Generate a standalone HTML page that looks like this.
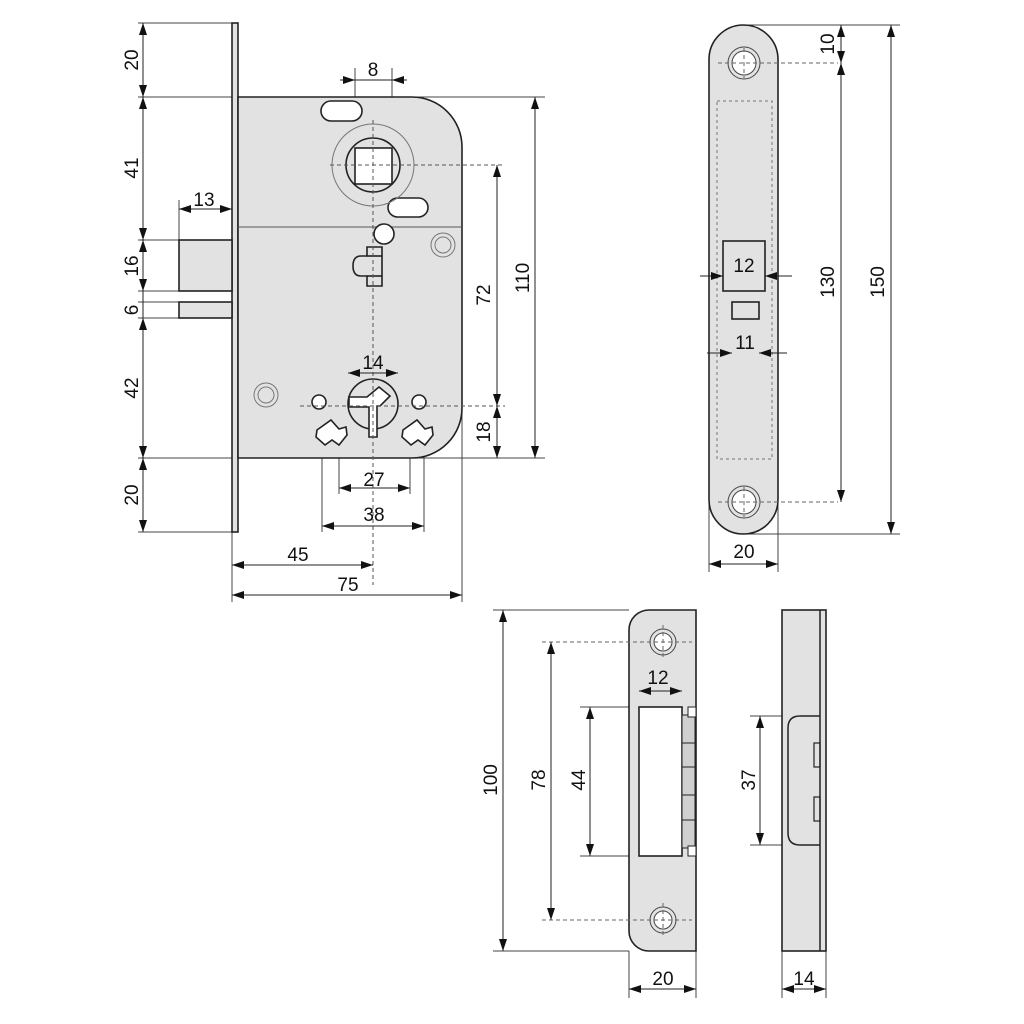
<!DOCTYPE html>
<html><head><meta charset="utf-8"><style>
html,body{margin:0;padding:0;background:#fff}
svg{display:block}
text{font-family:"Liberation Sans","DejaVu Sans",sans-serif;font-size:19px;fill:#111}
</style></head><body>
<svg width="1024" height="1024" viewBox="0 0 1024 1024" xmlns="http://www.w3.org/2000/svg">
<defs>
<marker id="a" markerUnits="userSpaceOnUse" markerWidth="13" markerHeight="9" refX="12" refY="4" orient="auto-start-reverse"><path d="M0,0 L12,4 L0,8 z" fill="#111"/></marker>
</defs>
<g stroke="#444" stroke-width="1" fill="none">
<line x1="138" y1="23" x2="232" y2="23"/>
<line x1="138" y1="97" x2="545" y2="97"/>
<line x1="138" y1="240" x2="179" y2="240"/>
<line x1="138" y1="291" x2="179" y2="291"/>
<line x1="138" y1="302" x2="179" y2="302"/>
<line x1="138" y1="318" x2="179" y2="318"/>
<line x1="138" y1="458" x2="545" y2="458"/>
<line x1="138" y1="532" x2="232" y2="532"/>
<line x1="179" y1="200" x2="179" y2="240"/>
<line x1="232" y1="532" x2="232" y2="602"/>
<line x1="462" y1="400" x2="462" y2="602"/>
<line x1="322" y1="438" x2="322" y2="532"/>
<line x1="339" y1="438" x2="339" y2="494"/>
<line x1="410" y1="438" x2="410" y2="494"/>
<line x1="424" y1="438" x2="424" y2="532"/>
<line x1="355" y1="68" x2="355" y2="148"/>
<line x1="392" y1="68" x2="392" y2="148"/>
<line x1="348" y1="367" x2="348" y2="395"/>
<line x1="398" y1="367" x2="398" y2="395"/>
</g>
<g stroke="#222" stroke-width="1.6" fill="#e2e2e2">
<rect x="232" y="23" width="6" height="509"/>
<rect x="179" y="240" width="53" height="51"/>
<rect x="179" y="302" width="53" height="16"/>
<path d="M238,97 L412,97 A50,50 0 0 1 462,147 L462,408 A50,50 0 0 1 412,458 L238,458 Z"/>
</g>
<line x1="238" y1="227" x2="462" y2="227" stroke="#555" stroke-width="1"/>
<g stroke="#222" stroke-width="1.6" fill="#fff">
<rect x="321" y="101" width="41" height="20" rx="10"/>
<rect x="388" y="198" width="40" height="19" rx="9.5"/>
<circle cx="373" cy="165" r="41" fill="none" stroke="#777" stroke-width="1"/>
<circle cx="373" cy="165" r="27" fill="#e2e2e2"/>
<rect x="355" y="148" width="37" height="36"/>
<circle cx="384" cy="234" r="10"/>
<path d="M382,247 L367,247 L367,256 L361,256 Q353,256 353,266 Q353,276 361,276 L367,276 L367,286 L382,286 Z" fill="none"/>
<line x1="367" y1="256" x2="382" y2="256"/>
<line x1="367" y1="276" x2="382" y2="276"/>
<circle cx="373" cy="404" r="25" fill="#e2e2e2"/>
<path d="M349,397 L367,397 L379,387 L390,396 L380,406 L377,406 L377,437 L369,437 L369,407 L349,407 Z"/>
<circle cx="319" cy="402" r="7"/>
<circle cx="419" cy="402" r="7"/>
<path d="M317,430 L331,420 L339,429 L346,427 L347,435 L339,445 L332,440 L325,445 L316,437 Z"/>
<path d="M403,430 L417,420 L425,429 L432,427 L433,435 L425,445 L418,440 L411,445 L402,437 Z"/>
</g>
<g stroke="#777" stroke-width="1" fill="none">
<circle cx="443" cy="245" r="12"/><circle cx="443" cy="245" r="8"/>
<circle cx="266" cy="395" r="12"/><circle cx="266" cy="395" r="8"/>
</g>
<g stroke="#555" stroke-width="1" stroke-dasharray="4,3" fill="none">
<line x1="373" y1="120" x2="373" y2="585"/>
<line x1="330" y1="165" x2="505" y2="165"/>
<line x1="300" y1="406" x2="505" y2="406"/>
</g>
<g stroke="#222" stroke-width="1" fill="none">
<line x1="143" y1="23" x2="143" y2="97" marker-start="url(#a)" marker-end="url(#a)"/>
<line x1="143" y1="97" x2="143" y2="240" marker-start="url(#a)" marker-end="url(#a)"/>
<line x1="143" y1="240" x2="143" y2="291" marker-start="url(#a)" marker-end="url(#a)"/>
<line x1="143" y1="291" x2="143" y2="302"/>
<line x1="143" y1="318" x2="143" y2="458" marker-start="url(#a)" marker-end="url(#a)"/>
<line x1="143" y1="458" x2="143" y2="532" marker-start="url(#a)" marker-end="url(#a)"/>
<line x1="143" y1="302" x2="143" y2="318"/>
<line x1="179" y1="209" x2="232" y2="209" marker-start="url(#a)" marker-end="url(#a)"/>
<line x1="340" y1="80" x2="355" y2="80" marker-end="url(#a)"/>
<line x1="407" y1="80" x2="392" y2="80" marker-end="url(#a)"/>
<line x1="355" y1="80" x2="392" y2="80"/>
<line x1="348" y1="373" x2="398" y2="373" marker-start="url(#a)" marker-end="url(#a)"/>
<line x1="339" y1="488" x2="410" y2="488" marker-start="url(#a)" marker-end="url(#a)"/>
<line x1="322" y1="526" x2="424" y2="526" marker-start="url(#a)" marker-end="url(#a)"/>
<line x1="232" y1="565" x2="373" y2="565" marker-start="url(#a)" marker-end="url(#a)"/>
<line x1="232" y1="595" x2="462" y2="595" marker-start="url(#a)" marker-end="url(#a)"/>
<line x1="497" y1="165" x2="497" y2="406" marker-start="url(#a)" marker-end="url(#a)"/>
<line x1="497" y1="406" x2="497" y2="458" marker-start="url(#a)" marker-end="url(#a)"/>
<line x1="535" y1="97" x2="535" y2="458" marker-start="url(#a)" marker-end="url(#a)"/>
</g>
<g text-anchor="middle">
<text transform="translate(138,60) rotate(-90)">20</text>
<text transform="translate(138,168) rotate(-90)">41</text>
<text transform="translate(138,266) rotate(-90)">16</text>
<text transform="translate(138,310) rotate(-90)">6</text>
<text transform="translate(138,388) rotate(-90)">42</text>
<text transform="translate(138,495) rotate(-90)">20</text>
<text x="204" y="206">13</text>
<text x="373" y="76">8</text>
<text x="373" y="369">14</text>
<text x="374" y="486">27</text>
<text x="374" y="521">38</text>
<text x="298" y="561">45</text>
<text x="348" y="591">75</text>
<text transform="translate(490,295) rotate(-90)">72</text>
<text transform="translate(490,432) rotate(-90)">18</text>
<text transform="translate(529,278) rotate(-90)">110</text>
</g>

<g stroke="#444" stroke-width="1" fill="none">
<line x1="744" y1="25" x2="900" y2="25"/>
<line x1="744" y1="534" x2="900" y2="534"/>
<line x1="709" y1="500" x2="709" y2="572"/>
<line x1="778" y1="500" x2="778" y2="572"/>
<line x1="732" y1="319" x2="732" y2="358"/>
<line x1="759" y1="319" x2="759" y2="358"/>
</g>
<g stroke="#222" stroke-width="1.6" fill="#e2e2e2">
<rect x="709" y="25" width="69" height="509" rx="34.5"/>
</g>
<rect x="717" y="101" width="55" height="358" fill="none" stroke="#777" stroke-width="1" stroke-dasharray="3,3"/>
<g stroke="#222" stroke-width="1.6" fill="none">
<rect x="723" y="241" width="42" height="50"/>
<rect x="732" y="302" width="27" height="17"/>
</g>
<g stroke="#444" stroke-width="1">
<circle cx="744" cy="63" r="16" fill="#e2e2e2"/><circle cx="744" cy="63" r="12" fill="#fff"/>
<circle cx="744" cy="502" r="16" fill="#e2e2e2"/><circle cx="744" cy="502" r="12" fill="#fff"/>
</g>
<g stroke="#666" stroke-width="1" stroke-dasharray="4,3">
<line x1="718" y1="63" x2="838" y2="63"/>
<line x1="718" y1="502" x2="838" y2="502"/>
<line x1="744" y1="48" x2="744" y2="78"/>
<line x1="744" y1="487" x2="744" y2="517"/>
</g>
<g stroke="#222" stroke-width="1" fill="none">
<line x1="700" y1="276" x2="723" y2="276" marker-end="url(#a)"/>
<line x1="792" y1="276" x2="765" y2="276" marker-end="url(#a)"/>
<line x1="707" y1="353" x2="732" y2="353" marker-end="url(#a)"/>
<line x1="787" y1="353" x2="759" y2="353" marker-end="url(#a)"/>
<line x1="841" y1="25" x2="841" y2="63" marker-start="url(#a)" marker-end="url(#a)"/>
<line x1="841" y1="63" x2="841" y2="502" marker-start="url(#a)" marker-end="url(#a)"/>
<line x1="891" y1="25" x2="891" y2="534" marker-start="url(#a)" marker-end="url(#a)"/>
<line x1="709" y1="564" x2="778" y2="564" marker-start="url(#a)" marker-end="url(#a)"/>
</g>
<g text-anchor="middle">
<text x="744" y="272">12</text>
<text x="745" y="349">11</text>
<text transform="translate(834,44) rotate(-90)">10</text>
<text transform="translate(834,282) rotate(-90)">130</text>
<text transform="translate(884,282) rotate(-90)">150</text>
<text x="744" y="558">20</text>
</g>

<g stroke="#444" stroke-width="1" fill="none">
<line x1="493" y1="610" x2="629" y2="610"/>
<line x1="493" y1="951" x2="629" y2="951"/>
<line x1="580" y1="707" x2="639" y2="707"/>
<line x1="580" y1="856" x2="639" y2="856"/>
<line x1="639" y1="686" x2="639" y2="707"/>
<line x1="682" y1="686" x2="682" y2="707"/>
<line x1="629" y1="951" x2="629" y2="998"/>
<line x1="696" y1="951" x2="696" y2="998"/>
<line x1="782" y1="951" x2="782" y2="998"/>
<line x1="826" y1="951" x2="826" y2="998"/>
<line x1="750" y1="716" x2="790" y2="716"/>
<line x1="750" y1="845" x2="790" y2="845"/>
</g>
<g stroke="#222" stroke-width="1.6" fill="#e2e2e2">
<path d="M649,610 L696,610 L696,951 L649,951 A20,20 0 0 1 629,931 L629,630 A20,20 0 0 1 649,610 Z"/>
<rect x="639" y="707" width="43" height="149" fill="#fff"/>
<rect x="682" y="715" width="13" height="133" fill="#d0d0d0" stroke-width="1"/>
<rect x="688" y="707" width="8" height="10" fill="#fff" stroke-width="1"/>
<rect x="688" y="846" width="8" height="10" fill="#fff" stroke-width="1"/>
<line x1="682" y1="743" x2="696" y2="743" stroke-width="1"/>
<line x1="682" y1="767" x2="696" y2="767" stroke-width="1"/>
<line x1="682" y1="795" x2="696" y2="795" stroke-width="1"/>
<line x1="682" y1="820" x2="696" y2="820" stroke-width="1"/>
<rect x="782" y="610" width="44" height="341"/>
<line x1="820" y1="610" x2="820" y2="951" stroke-width="1.5"/>
<path d="M820,716 L800,716 Q788,716 788,728 L788,833 Q788,845 800,845 L820,845" fill="none" stroke-width="1.5"/>
<rect x="814" y="743" width="6" height="24" fill="none" stroke-width="1.2"/>
<rect x="814" y="797" width="6" height="24" fill="none" stroke-width="1.2"/>
</g>
<g stroke="#444" stroke-width="1">
<circle cx="663" cy="642" r="13" fill="#e2e2e2"/><circle cx="663" cy="642" r="9" fill="#fff"/>
<circle cx="663" cy="920" r="13" fill="#e2e2e2"/><circle cx="663" cy="920" r="9" fill="#fff"/>
</g>
<g stroke="#666" stroke-width="1" stroke-dasharray="4,3">
<line x1="542" y1="642" x2="692" y2="642"/>
<line x1="542" y1="920" x2="692" y2="920"/>
<line x1="663" y1="625" x2="663" y2="659"/>
<line x1="663" y1="903" x2="663" y2="937"/>
</g>
<g stroke="#222" stroke-width="1" fill="none">
<line x1="503" y1="610" x2="503" y2="951" marker-start="url(#a)" marker-end="url(#a)"/>
<line x1="551" y1="642" x2="551" y2="920" marker-start="url(#a)" marker-end="url(#a)"/>
<line x1="590" y1="707" x2="590" y2="856" marker-start="url(#a)" marker-end="url(#a)"/>
<line x1="639" y1="691" x2="682" y2="691" marker-start="url(#a)" marker-end="url(#a)"/>
<line x1="629" y1="989" x2="696" y2="989" marker-start="url(#a)" marker-end="url(#a)"/>
<line x1="760" y1="716" x2="760" y2="845" marker-start="url(#a)" marker-end="url(#a)"/>
<line x1="782" y1="989" x2="826" y2="989" marker-start="url(#a)" marker-end="url(#a)"/>
</g>
<g text-anchor="middle">
<text transform="translate(497,780) rotate(-90)">100</text>
<text transform="translate(545,780) rotate(-90)">78</text>
<text transform="translate(585,780) rotate(-90)">44</text>
<text transform="translate(755,780) rotate(-90)">37</text>
<text x="658" y="684">12</text>
<text x="663" y="985">20</text>
<text x="804" y="985">14</text>
</g>
</svg>
</body></html>
